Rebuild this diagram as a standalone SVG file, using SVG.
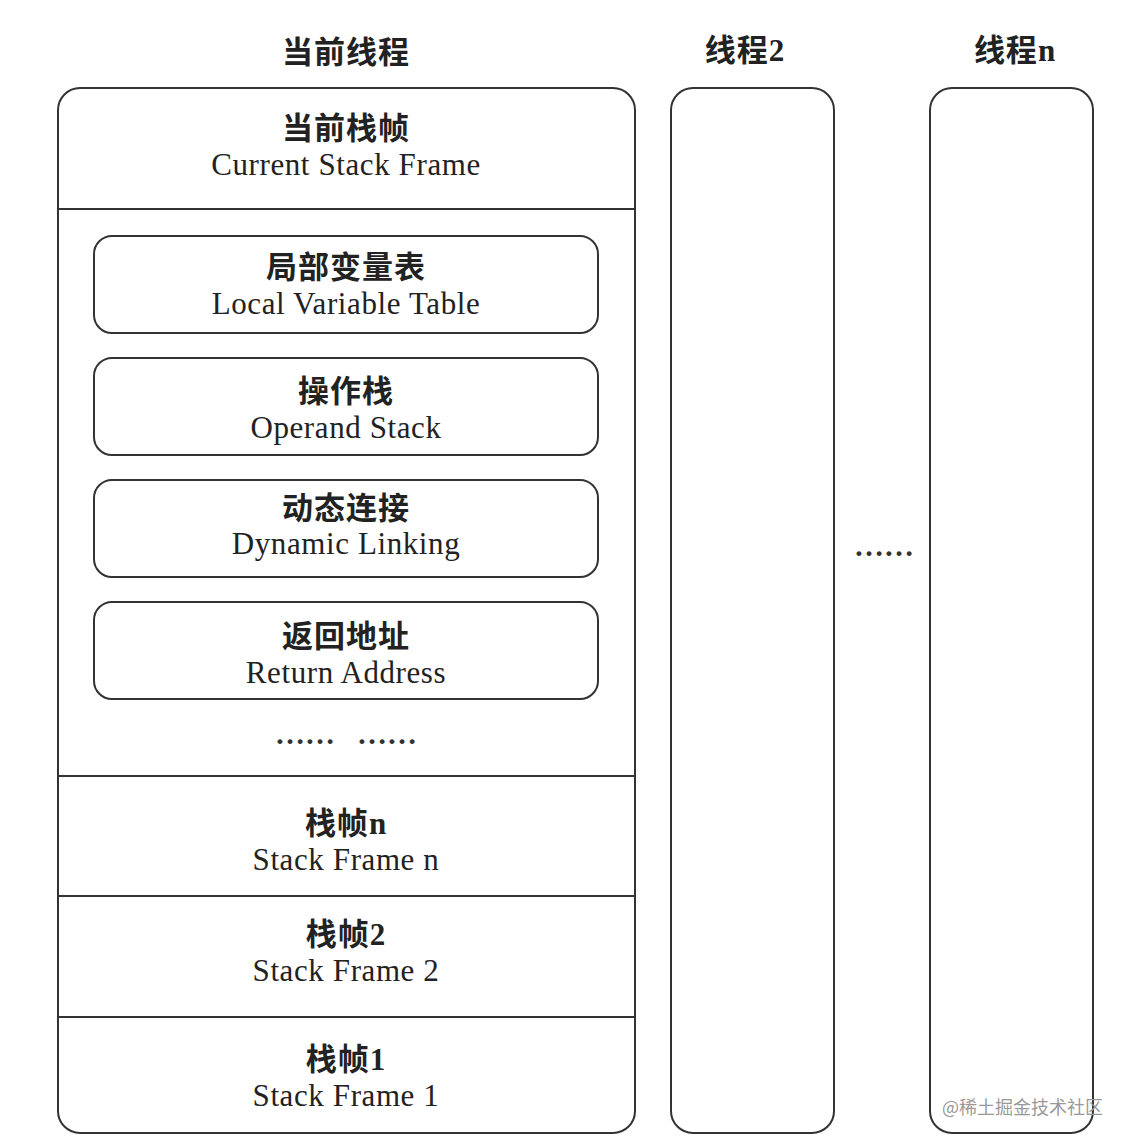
<svg xmlns="http://www.w3.org/2000/svg" width="1132" height="1148" viewBox="0 0 1132 1148">
<style>
.box{fill:#fff;stroke:#333;stroke-width:2}
.div{stroke:#333;stroke-width:2}
.zh{font-family:"Noto Sans CJK SC","Liberation Serif",serif;font-weight:bold;font-size:31px;fill:#222;text-anchor:middle;letter-spacing:1px}
.lat{font-family:"Liberation Serif",serif;font-weight:bold}
.en{font-family:"Liberation Serif",serif;font-size:31px;fill:#222;text-anchor:middle;letter-spacing:0.6px}
.dots{font-family:"Liberation Serif",serif;font-size:30px;font-weight:bold;fill:#333;text-anchor:middle}
.wm{font-family:"Noto Sans CJK SC",sans-serif;font-size:18px;fill:#999}
</style>
<rect width="1132" height="1148" fill="#fff"/>
<g id="titles">
<text class="zh" x="346" y="63">当前线程</text>
<text class="zh" x="745" y="61">线程<tspan class="lat">2</tspan></text>
<text class="zh" x="1015" y="61">线程<tspan class="lat">n</tspan></text>
</g>
<g id="current-thread">
<rect class="box" x="58" y="88" width="577" height="1045" rx="22"/>
</g>
<g id="connectors">
<line class="div" x1="58" y1="209" x2="635" y2="209"/>
<line class="div" x1="58" y1="776" x2="635" y2="776"/>
<line class="div" x1="58" y1="896" x2="635" y2="896"/>
<line class="div" x1="58" y1="1017" x2="635" y2="1017"/>
</g>
<g id="current-frame">
<text class="zh" x="346" y="139">当前栈帧</text>
<text class="en" x="346" y="175">Current Stack Frame</text>
</g>
<g id="local-variable-table">
<rect class="box" x="94" y="236" width="504" height="97" rx="18"/>
<text class="zh" x="346" y="278">局部变量表</text>
<text class="en" x="346" y="314">Local Variable Table</text>
</g>
<g id="operand-stack">
<rect class="box" x="94" y="358" width="504" height="97" rx="18"/>
<text class="zh" x="346" y="402">操作栈</text>
<text class="en" x="346" y="438">Operand Stack</text>
</g>
<g id="dynamic-linking">
<rect class="box" x="94" y="480" width="504" height="97" rx="18"/>
<text class="zh" x="346" y="519">动态连接</text>
<text class="en" x="346" y="554">Dynamic Linking</text>
</g>
<g id="return-address">
<rect class="box" x="94" y="602" width="504" height="97" rx="18"/>
<text class="zh" x="346" y="647">返回地址</text>
<text class="en" x="346" y="683">Return Address</text>
</g>
<g id="frame-dots">
<text class="dots" x="305" y="744">……</text>
<text class="dots" x="387" y="744">……</text>
</g>
<g id="stack-frame-n">
<text class="zh" x="346" y="834">栈帧<tspan class="lat">n</tspan></text>
<text class="en" x="346" y="870">Stack Frame n</text>
</g>
<g id="stack-frame-2">
<text class="zh" x="346" y="945">栈帧<tspan class="lat">2</tspan></text>
<text class="en" x="346" y="981">Stack Frame 2</text>
</g>
<g id="stack-frame-1">
<text class="zh" x="346" y="1070">栈帧<tspan class="lat">1</tspan></text>
<text class="en" x="346" y="1106">Stack Frame 1</text>
</g>
<g id="thread-2">
<rect class="box" x="671" y="88" width="163" height="1045" rx="22"/>
</g>
<g id="thread-dots">
<text class="dots" x="884" y="556">……</text>
</g>
<g id="thread-n">
<rect class="box" x="930" y="88" width="163" height="1045" rx="22"/>
</g>
<text class="wm" x="942" y="1114">@稀土掘金技术社区</text>
</svg>
